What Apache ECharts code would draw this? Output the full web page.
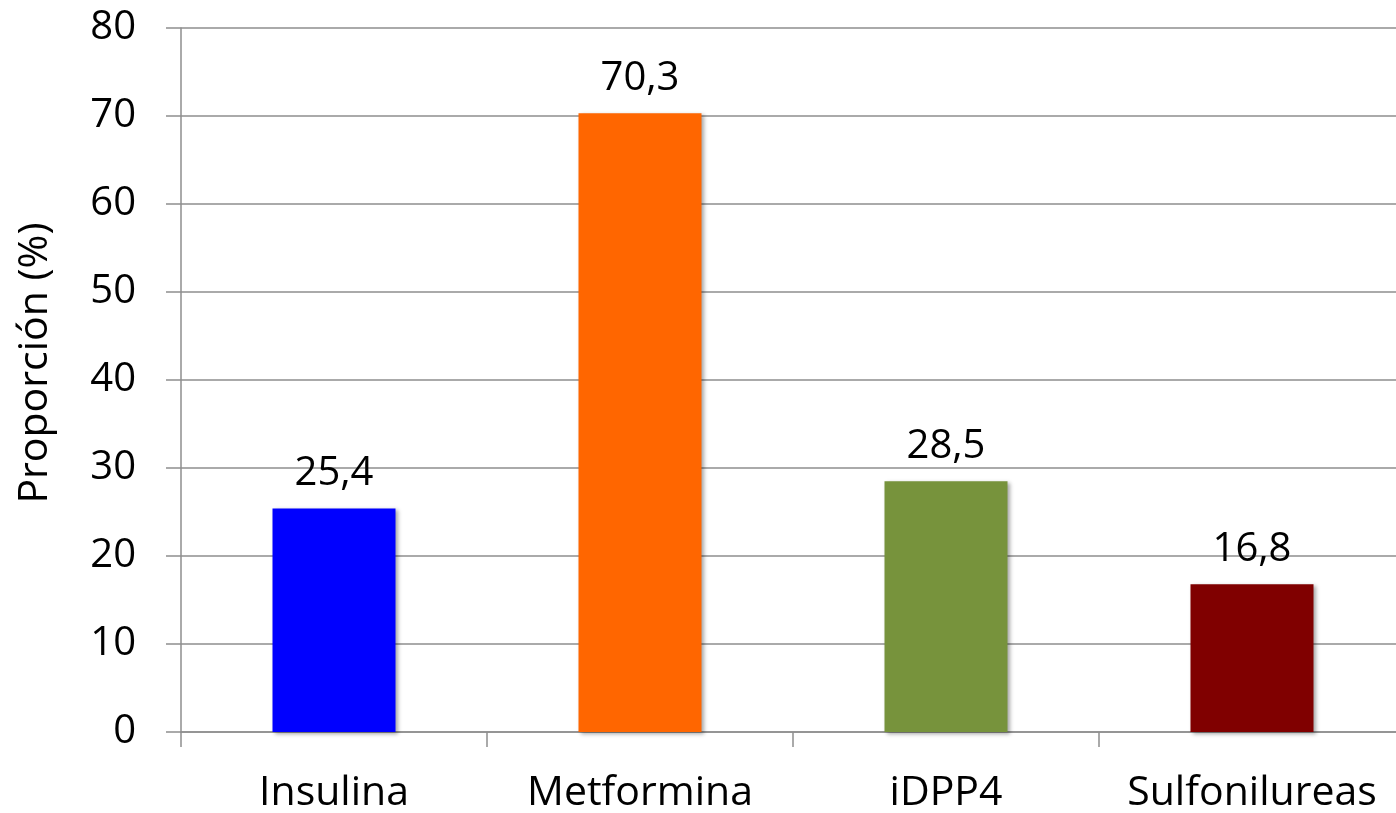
<!DOCTYPE html>
<html>
<head>
<meta charset="utf-8">
<script src="https://cdn.jsdelivr.net/npm/echarts@6/dist/echarts.min.js"></script>
<style>
  html, body { margin: 0; padding: 0; background: #fff; }
  #chart { width: 1396px; height: 813px; }
</style>
</head>
<body>
<div id="chart"></div>
<script>
// Drug classes and the share of patients using each (%)
const categories = ['Insulina', 'Metformina', 'iDPP4', 'Sulfonilureas'];
const values = [25.4, 70.3, 28.5, 16.8];
const barColors = ['#0000FF', '#FF6600', '#77933C', '#800000'];
const yTicks = { min: 0, max: 80, interval: 10 };
const yTitle = 'Proporción (%)';

const FONT = '"Open Sans", "Liberation Sans", sans-serif';
const AXIS_GRAY = '#8e8e8e';

const chart = echarts.init(document.getElementById('chart'), null, { renderer: 'canvas' });

chart.setOption({
  animation: false,
  backgroundColor: '#ffffff',
  grid: {
    left: 181, top: 28, bottom: 81, width: 1224,
    containLabel: false,
    outerBoundsMode: 'none'
  },
  xAxis: {
    type: 'category',
    data: categories,
    boundaryGap: true,
    axisLine: { show: true, lineStyle: { color: AXIS_GRAY, width: 1.5 } },
    axisTick: { show: true, length: 15, lineStyle: { color: AXIS_GRAY, width: 1.5 } },
    axisLabel: { color: '#000', fontFamily: FONT, fontSize: 41, margin: 41, interval: 0, hideOverlap: false },
    splitLine: { show: false }
  },
  yAxis: {
    type: 'value',
    min: yTicks.min,
    max: yTicks.max,
    interval: yTicks.interval,
    axisLine: { show: true, lineStyle: { color: AXIS_GRAY, width: 1.5 } },
    axisTick: { show: true, length: 15, lineStyle: { color: AXIS_GRAY, width: 1.5 } },
    axisLabel: { color: '#000', fontFamily: FONT, fontSize: 40, margin: 45 },
    splitLine: { show: true, lineStyle: { color: AXIS_GRAY, width: 1.5 } }
  },
  graphic: [{
    type: 'text',
    x: 35,
    y: 363,
    rotation: Math.PI / 2,
    style: {
      text: yTitle,
      fill: '#000',
      font: '41px ' + FONT,
      textAlign: 'center',
      textVerticalAlign: 'middle'
    }
  }],
  series: [{
    type: 'bar',
    barWidth: 123,
    data: values.map((v, i) => ({
      value: v,
      itemStyle: {
        color: barColors[i],
        shadowColor: 'rgba(0,0,0,0.35)',
        shadowBlur: 4,
        shadowOffsetX: 2,
        shadowOffsetY: 2
      }
    })),
    label: {
      show: true,
      position: 'top',
      distance: 15,
      color: '#000',
      fontFamily: FONT,
      fontSize: 40,
      formatter: p => String(p.value).replace('.', ',')
    }
  }]
});
</script>
</body>
</html>
